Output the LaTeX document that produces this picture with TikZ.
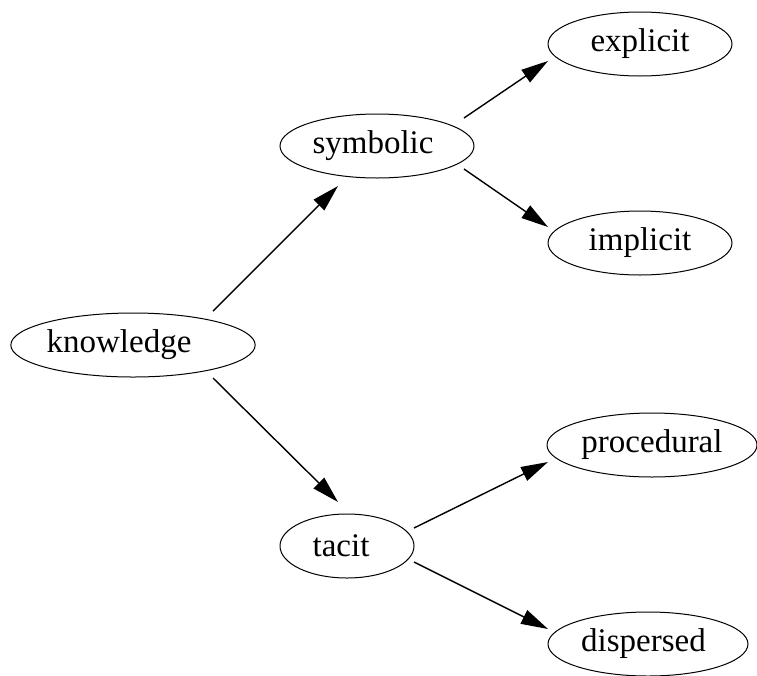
\documentclass[tikz,border=0pt]{standalone}
\usepackage{fontspec}
\setmainfont{Liberation Serif}
\usetikzlibrary{arrows.meta,shapes.geometric,positioning}

\begin{document}
\begin{tikzpicture}[auto,x=1pt,y=-1pt,>={Triangle[length=27pt,width=15pt]}]
\tikzstyle{every node}=[font=\fontsize{33}{40}\selectfont]
\tikzstyle{concept}=[ellipse,draw,line width=1pt,inner sep=0pt,minimum height=64pt]
\tikzstyle{every path}=[line width=1.4pt];
\useasboundingbox (0,0) rectangle (757,675);
\node[concept,minimum width=244pt] (knowledge) at (133,345) {knowledge\hspace*{28pt}};
\node[concept,minimum width=194pt] (symbolic) [on grid,above right=199pt and 244pt of knowledge] {symbolic\hspace*{8pt}};
\node[concept,minimum width=134pt] (tacit) [on grid,below right=201pt and 214pt of knowledge] {tacit\hspace*{12pt}};
\node[concept,minimum width=184pt] (explicit) [on grid,above right=102pt and 263pt of symbolic] {explicit};
\node[concept,minimum width=184pt] (implicit) [on grid,below right=97pt and 263pt of symbolic] {implicit};
\node[concept,minimum width=210pt] (procedural) [on grid,above right=101pt and 305pt of tacit] {procedural};
\node[concept,minimum width=200pt] (dispersed) [on grid,below right=98pt and 301pt of tacit] {dispersed\hspace*{9pt}};
\path[->] ([shift={(80,-34)}]knowledge.center) edge ([shift={(-39,40)}]symbolic.center);
\path[->] ([shift={(80,33)}]knowledge.center) edge ([shift={(-9,-44)}]tacit.center);
\path[->] ([shift={(87,-28)}]symbolic.center) edge ([shift={(-92,17)}]explicit.center);
\path[->] ([shift={(87,23)}]symbolic.center) edge ([shift={(-92,-16)}]implicit.center);
\path[->] ([shift={(67,-18)}]tacit.center) edge ([shift={(-104,17)}]procedural.center);
\path[->] ([shift={(67,16)}]tacit.center) edge ([shift={(-100,-15)}]dispersed.center);
\end{tikzpicture}
\end{document}
